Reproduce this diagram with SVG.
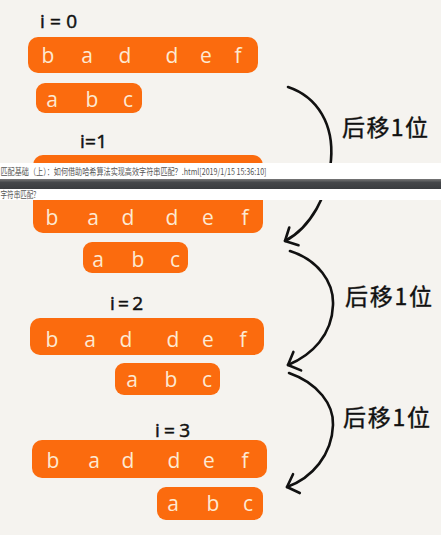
<svg xmlns="http://www.w3.org/2000/svg" width="441" height="535" viewBox="0 0 441 535">
<style>
.bar{fill:#fb6b0e}
.lt{font-family:"Open Sans","Noto Sans",sans-serif;font-size:21px;fill:#fde9d2;text-anchor:middle}
.il{font-family:"Open Sans","Noto Sans",sans-serif;font-size:19px;fill:#111;stroke:#111;stroke-width:0.5}
.lbl{font-family:"Noto Sans CJK SC","Noto Sans",sans-serif;font-size:23px;fill:#111;stroke:#111;stroke-width:0.4}
.arc{fill:none;stroke:#111;stroke-width:2.6;stroke-linecap:round}
.ov{font-family:"Noto Sans CJK SC","Liberation Sans",sans-serif;font-size:9px;fill:#555}
</style>
<defs>
<marker id="ah" markerUnits="userSpaceOnUse" markerWidth="30" markerHeight="30" refX="0" refY="0" viewBox="-15 -15 30 30" orient="auto">
<path d="M-10,-10 L0,0 L-10,10" fill="none" stroke="#111" stroke-width="2.6" stroke-linecap="round" stroke-linejoin="round"/>
</marker>
<linearGradient id="dk" x1="0" y1="0" x2="0" y2="1">
<stop offset="0" stop-color="#777"/>
<stop offset="0.35" stop-color="#45474a"/>
<stop offset="1" stop-color="#3a3c3f"/>
</linearGradient>
</defs>
<rect width="441" height="535" fill="#f5f3ef"/>

<g id="row0">
<text class="il" x="40" y="28" textLength="37">i=0</text>
<g id="text0">
<rect class="bar" x="28" y="37" width="230" height="36" rx="10"/>
<text class="lt" y="63"><tspan x="48">b</tspan><tspan x="87">a</tspan><tspan x="125">d</tspan><tspan x="172">d</tspan><tspan x="206">e</tspan><tspan x="238">f</tspan></text>
</g>
<g id="pattern0">
<rect class="bar" x="36" y="83" width="106" height="30" rx="9"/>
<text class="lt" y="107"><tspan x="52">a</tspan><tspan x="92">b</tspan><tspan x="128">c</tspan></text>
</g>
</g>

<g id="row1">
<text class="il" x="80" y="148" textLength="27">i=1</text>
<g id="text1">
<rect class="bar" x="33" y="155" width="230" height="78" rx="10"/>
<text class="lt" y="225"><tspan x="52">b</tspan><tspan x="93">a</tspan><tspan x="128">d</tspan><tspan x="172">d</tspan><tspan x="208">e</tspan><tspan x="245">f</tspan></text>
</g>
<g id="pattern1">
<rect class="bar" x="83" y="242" width="105" height="31" rx="9"/>
<text class="lt" y="267"><tspan x="98">a</tspan><tspan x="138">b</tspan><tspan x="175">c</tspan></text>
</g>
</g>

<g id="row2">
<text class="il" x="110" y="310" textLength="33">i=2</text>
<g id="text2">
<rect class="bar" x="30" y="318" width="234" height="37" rx="10"/>
<text class="lt" y="347"><tspan x="52">b</tspan><tspan x="90">a</tspan><tspan x="126">d</tspan><tspan x="173">d</tspan><tspan x="208">e</tspan><tspan x="243">f</tspan></text>
</g>
<g id="pattern2">
<rect class="bar" x="115" y="363" width="105" height="32" rx="9"/>
<text class="lt" y="387"><tspan x="132">a</tspan><tspan x="171">b</tspan><tspan x="207">c</tspan></text>
</g>
</g>

<g id="row3">
<text class="il" x="155" y="437" textLength="35">i=3</text>
<g id="text3">
<rect class="bar" x="32" y="440" width="235" height="38" rx="10"/>
<text class="lt" y="468"><tspan x="53">b</tspan><tspan x="94">a</tspan><tspan x="128">d</tspan><tspan x="174">d</tspan><tspan x="209">e</tspan><tspan x="245">f</tspan></text>
</g>
<g id="pattern3">
<rect class="bar" x="157" y="487" width="106" height="33" rx="9"/>
<text class="lt" y="511"><tspan x="173">a</tspan><tspan x="213">b</tspan><tspan x="248">c</tspan></text>
</g>
</g>

<g id="connectors">
<path class="arc" marker-end="url(#ah)" d="M288,87 C318,97 334,125 331,160 C329,195 310,228 285,241"/>
<path class="arc" marker-end="url(#ah)" d="M290,251 C318,260 334,282 333,305 C332,335 312,355 288,365"/>
<path class="arc" marker-end="url(#ah)" d="M289,373 C318,383 334,405 333,425 C332,455 312,478 287,487"/>
</g>

<g id="labels">
<text class="lbl" x="342" y="136" textLength="86">后移1位</text>
<text class="lbl" x="345" y="305" textLength="87">后移1位</text>
<text class="lbl" x="343" y="426" textLength="87">后移1位</text>
</g>

<g id="overlay">
<rect x="0" y="163" width="441" height="16" fill="#ffffff"/>
<rect x="0" y="179" width="441" height="10" fill="url(#dk)"/>
<rect x="0" y="189" width="441" height="11" fill="#ffffff"/>
<text class="ov" x="0.5" y="174.5" textLength="266" lengthAdjust="spacingAndGlyphs">匹配基础（上）：如何借助哈希算法实现高效字符串匹配？.html[2019/1/15 15:36:10]</text>
<text class="ov" x="0.5" y="198" textLength="36" lengthAdjust="spacingAndGlyphs">字符串匹配?</text>
</g>
</svg>
